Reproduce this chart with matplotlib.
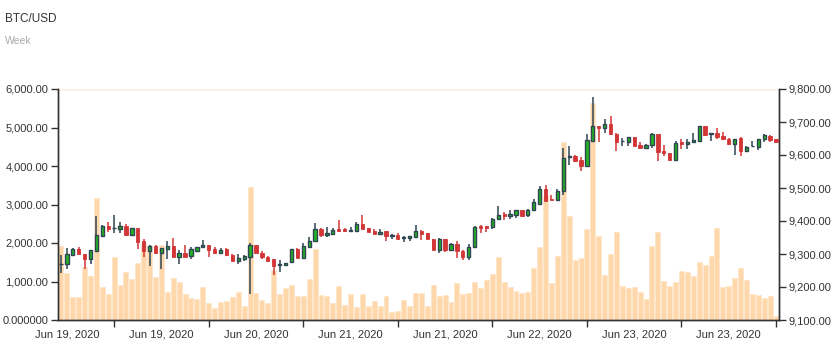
import matplotlib
matplotlib.use("Agg")
import matplotlib.pyplot as plt
from matplotlib.ticker import FuncFormatter, FixedLocator

plt.rcParams['font.family'] = ['Liberation Sans', 'DejaVu Sans']

# hourly-ish candles
opens = [9270, 9269, 9297, 9314, 9301, 9285, 9310, 9356, 9385, 9378,
         9377, 9384, 9358, 9380, 9340, 9310, 9324, 9302, 9315, 9324,
         9292, 9302, 9294, 9310, 9320, 9327, 9315, 9302, 9315, 9297,
         9280, 9286, 9292, 9328, 9302, 9292, 9285, 9268, 9267, 9275,
         9314, 9289, 9321, 9338, 9376, 9359, 9361, 9375, 9375, 9371,
         9371, 9392, 9378, 9371, 9361, 9369, 9356, 9357, 9350, 9347,
         9351, 9371, 9363, 9345, 9312, 9345, 9312, 9329, 9310, 9292,
         9320, 9386, 9384, 9381, 9406, 9421, 9414, 9419, 9432, 9417,
         9434, 9452, 9498, 9467, 9464, 9492, 9593, 9596, 9584, 9566,
         9642, 9689, 9681, 9693, 9665, 9642, 9640, 9656, 9629, 9620,
         9629, 9663, 9612, 9607, 9586, 9638, 9634, 9640, 9642, 9689,
         9663, 9667, 9659, 9650, 9632, 9651, 9612, 9626, 9625, 9648,
         9658, 9648]
highs = [9297, 9317, 9317, 9322, 9301, 9311, 9416, 9388, 9397, 9419,
         9397, 9390, 9380, 9380, 9346, 9328, 9328, 9317, 9338, 9348,
         9312, 9328, 9320, 9320, 9343, 9327, 9321, 9317, 9317, 9301,
         9299, 9297, 9333, 9328, 9309, 9295, 9285, 9282, 9274, 9314,
         9318, 9334, 9353, 9394, 9378, 9382, 9378, 9404, 9378, 9381,
         9396, 9419, 9378, 9376, 9376, 9371, 9361, 9363, 9354, 9354,
         9388, 9373, 9363, 9345, 9350, 9345, 9332, 9338, 9313, 9329,
         9386, 9388, 9384, 9409, 9444, 9426, 9434, 9432, 9432, 9437,
         9468, 9505, 9510, 9480, 9498, 9620, 9626, 9599, 9594, 9663,
         9775, 9689, 9709, 9719, 9668, 9653, 9656, 9656, 9638, 9632,
         9666, 9663, 9629, 9607, 9642, 9648, 9648, 9667, 9689, 9689,
         9668, 9683, 9671, 9653, 9650, 9655, 9627, 9642, 9650, 9663,
         9661, 9648]
lows = [9241, 9256, 9294, 9297, 9256, 9270, 9307, 9353, 9368, 9363,
        9363, 9356, 9356, 9315, 9292, 9264, 9299, 9254, 9286, 9292,
        9270, 9292, 9286, 9308, 9317, 9291, 9300, 9300, 9295, 9280,
        9270, 9280, 9178, 9302, 9286, 9277, 9236, 9246, 9265, 9274,
        9289, 9289, 9321, 9338, 9352, 9351, 9361, 9367, 9367, 9370,
        9371, 9375, 9368, 9361, 9361, 9338, 9346, 9344, 9335, 9340,
        9347, 9343, 9345, 9312, 9303, 9305, 9310, 9289, 9282, 9282,
        9320, 9365, 9368, 9376, 9406, 9403, 9407, 9409, 9416, 9412,
        9431, 9449, 9457, 9463, 9464, 9478, 9571, 9578, 9551, 9563,
        9642, 9639, 9667, 9661, 9612, 9626, 9626, 9626, 9620, 9617,
        9622, 9582, 9596, 9583, 9586, 9617, 9619, 9635, 9640, 9658,
        9642, 9648, 9646, 9630, 9600, 9598, 9612, 9626, 9614, 9638,
        9640, 9640]
closes = [9270, 9299, 9314, 9299, 9284, 9311, 9358, 9385, 9376, 9378,
          9384, 9358, 9380, 9336, 9310, 9324, 9302, 9317, 9324, 9292,
          9302, 9292, 9314, 9320, 9327, 9313, 9302, 9313, 9297, 9280,
          9289, 9295, 9328, 9302, 9290, 9280, 9265, 9268, 9274, 9314,
          9289, 9323, 9340, 9376, 9358, 9363, 9374, 9371, 9370, 9373,
          9392, 9375, 9368, 9361, 9368, 9355, 9356, 9346, 9350, 9354,
          9370, 9361, 9345, 9312, 9345, 9312, 9329, 9310, 9292, 9320,
          9383, 9380, 9380, 9407, 9419, 9416, 9422, 9432, 9416, 9434,
          9458, 9498, 9460, 9464, 9492, 9592, 9596, 9582, 9566, 9645,
          9689, 9681, 9693, 9663, 9640, 9643, 9654, 9626, 9620, 9629,
          9663, 9609, 9606, 9586, 9636, 9634, 9640, 9645, 9689, 9660,
          9667, 9656, 9648, 9632, 9650, 9612, 9625, 9626, 9650, 9660,
          9646, 9640]
volumes = [1931, 1218, 609, 609, 1375, 1148, 3175, 870, 679, 1636,
           904, 1244, 1061, 1479, 1980, 1930, 1122, 1960, 731, 1079,
           992, 679, 574, 539, 861, 452, 313, 461, 496, 609,
           731, 357, 3454, 705, 522, 444, 1296, 670, 835, 905,
           630, 626, 1070, 1853, 652, 618, 435, 879, 383, 670,
           331, 670, 357, 496, 365, 626, 209, 235, 513, 365,
           696, 696, 365, 922, 635, 644, 470, 957, 687, 696,
           983, 835, 1035, 1183, 1636, 983, 853, 757, 705, 722,
           1349, 1888, 3236, 966, 1670, 4620, 2697, 1566, 1610, 2366,
           5638, 2192, 1175, 1705, 2288, 887, 844, 853, 722, 548,
           1914, 2288, 1009, 896, 992, 1270, 1235, 1148, 1514, 1427,
           1670, 2401, 870, 887, 1096, 1357, 1044, 679, 644, 583,
           626, 104]

x_labels = ["Jun 19, 2020", "Jun 19, 2020", "Jun 20, 2020", "Jun 21, 2020",
            "Jun 21, 2020", "Jun 22, 2020", "Jun 23, 2020", "Jun 23, 2020"]

n = len(closes)
xs = list(range(n))
tick_pos = [9 + 16 * k for k in range(len(x_labels))]
label_pos = [1 + 16 * k for k in range(len(x_labels))]

up_fill = '#22b322'
up_edge = '#2f4554'
down_col = '#d23535'
axis_col = '#333333'

fig = plt.figure(figsize=(8.39, 3.5), dpi=100)
ax = fig.add_axes([58 / 839, 1 - 320 / 350, 721 / 839, 231 / 350])
ax2 = ax.twinx()

# volume bars on the left axis
ax.bar(xs, volumes, width=0.84, color='#fed8ab', edgecolor='#ffe6cc', linewidth=0.6, zorder=2)
ax.axhline(6000, color='#fdf1e6', lw=2, zorder=1)
ax.set_ylim(0, 6000)
ax.set_xlim(-0.5, n - 0.5)
ax.yaxis.set_major_locator(FixedLocator([0, 1000, 2000, 3000, 4000, 5000, 6000]))
ax.yaxis.set_major_formatter(FuncFormatter(lambda v, p: '0.000000' if v == 0 else f'{v:,.2f}'))

# candles on the right axis
for i in xs:
    o, h, l, c = opens[i], highs[i], lows[i], closes[i]
    up = c >= o
    wick_col = up_edge if up else down_col
    ax2.vlines(i, l, h, color=wick_col, lw=1.1, zorder=3)
    bottom = min(o, c)
    height = max(abs(c - o), 0.3)
    if up:
        ax2.bar(i, height, bottom=bottom, width=0.56, color=up_fill,
                edgecolor=up_edge, linewidth=1.0, zorder=4)
    else:
        ax2.bar(i, height, bottom=bottom, width=0.56, color=down_col,
                edgecolor=down_col, linewidth=0.6, zorder=4)
ax2.set_ylim(9100, 9800)
ax2.yaxis.set_major_locator(FixedLocator([9100, 9200, 9300, 9400, 9500, 9600, 9700, 9800]))
ax2.yaxis.set_major_formatter(FuncFormatter(lambda v, p: f'{v:,.2f}'))

# x axis: ticks between labels, labels centred in between
ax.set_xticks(tick_pos)
ax.set_xticklabels([''] * len(tick_pos))
ax.set_xticks(label_pos, minor=True)
ax.set_xticklabels(x_labels, minor=True)
ax.tick_params(axis='x', which='major', length=5, width=1, color=axis_col)
ax.tick_params(axis='x', which='minor', length=0, pad=7, labelsize=8, labelcolor=axis_col)

for a in (ax, ax2):
    a.spines['top'].set_visible(False)
    for s in ('left', 'right', 'bottom'):
        a.spines[s].set_color(axis_col)
        a.spines[s].set_linewidth(1)
ax.tick_params(axis='y', length=5, width=1, color=axis_col, labelsize=8, labelcolor=axis_col, pad=2)
ax2.tick_params(axis='y', length=5, width=1, color=axis_col, labelsize=8, labelcolor=axis_col, pad=2)
ax.set_facecolor('white')

fig.text(5 / 839, 1 - 19 / 350, 'BTC/USD', fontsize=8.5, color='#333333', va='center', ha='left')
fig.text(5 / 839, 1 - 41 / 350, 'Week', fontsize=7.5, color='#aaaaaa', va='center', ha='left')

fig.savefig('out.png', dpi=100)
